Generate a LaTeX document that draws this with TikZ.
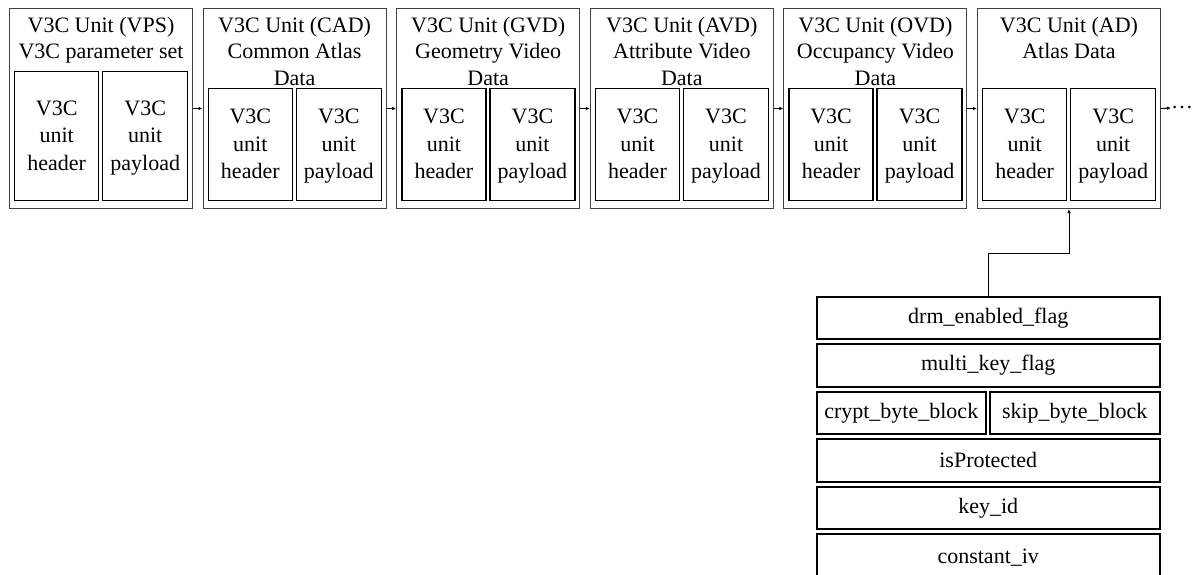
\documentclass[tikz,border=0pt]{standalone}
\usepackage{fontspec}
\setmainfont{Liberation Serif}
\usetikzlibrary{arrows.meta,calc}
\begin{document}
\begin{tikzpicture}[x=1pt,y=-1pt,
  outerbox/.style={draw=black!75,line width=1pt,minimum width=183pt,minimum height=200pt,anchor=north west,inner sep=0pt},
  innerbox/.style={draw=black,line width=1.4pt,anchor=north west,inner sep=0pt},
  innertext/.style={align=center,inner sep=0pt,font=\fontsize{22}{27.5}\selectfont},
  titletext/.style={anchor=north,align=center,inner sep=0pt,font=\fontsize{22}{26.5}\selectfont},
  fieldbox/.style={draw=black,line width=1.5pt,anchor=north west,inner sep=0pt,font=\fontsize{22}{26}\selectfont},
  link/.style={draw=black,line width=1pt,-{Latex[length=4pt,width=3.5pt]}}
]
\useasboundingbox (0,0) rectangle (1192,575);
\clip (0,0) rectangle (1192,575);
% outer units
\foreach \i/\t/\top in {1/{V3C Unit (VPS)\\V3C parameter set}/71,
                    2/{V3C Unit (CAD)\\Common Atlas\\Data}/88,
                    3/{V3C Unit (GVD)\\Geometry Video\\Data}/88,
                    4/{V3C Unit (AVD)\\Attribute Video\\Data}/88,
                    5/{V3C Unit (OVD)\\Occupancy Video\\Data}/88,
                    6/{V3C Unit (AD)\\Atlas Data}/88}{
  \pgfmathsetmacro{\xl}{9+193.6*(\i-1)}
  \node[outerbox] (o\i) at (\xl,8) {};
  \node[titletext] (t\i) at ($(o\i.north)+(0,9)$) {\t};
  \pgfmathsetmacro{\hgt}{200-\top}
  \node[innerbox,minimum width=84pt,minimum height=\hgt pt] (h\i) at (\xl+5,\top) {};
  \node[innerbox,minimum width=85pt,minimum height=\hgt pt] (p\i) at (\xl+93,\top) {};
  \node[innertext,anchor=base] (ht\i) at ($(h\i.center)+(0,34)$) {V3C\\unit\\header};
  \node[innertext,anchor=base] (pt\i) at ($(p\i.center)+(0,34)$) {V3C\\unit\\payload};
}
\foreach \a/\b in {1/2,2/3,3/4,4/5,5/6}{
  \draw[link] (o\a.east) -- (o\b.west);
}
\node[anchor=west,inner sep=0pt,font=\fontsize{22}{26}\selectfont] (dots) at (1171,108) {\dots};
\draw[link] (o6.east) -- (dots.west);
% field list
\node[fieldbox,minimum width=343pt,minimum height=42pt] (drm) at (816,296) {drm\_enabled\_flag};
\node[fieldbox,minimum width=343pt,minimum height=43pt] (mkf) at (816,343) {multi\_key\_flag};
\node[fieldbox,minimum width=169pt,minimum height=42pt] (cbb) at (816,391) {crypt\_byte\_block};
\node[fieldbox,minimum width=170pt,minimum height=42pt] (sbb) at (989,391) {skip\_byte\_block};
\node[fieldbox,minimum width=343pt,minimum height=43pt] (isp) at (816,438) {isProtected};
\node[fieldbox,minimum width=343pt,minimum height=42pt] (kid) at (816,486) {key\_id};
\node[fieldbox,minimum width=343pt,minimum height=48pt] (civ) at (816,533) {constant\_iv};
\coordinate (bend) at (988,253);
\draw[link] (drm.north) -- (drm.north |- bend) -| (o6.south);
\end{tikzpicture}
\end{document}
